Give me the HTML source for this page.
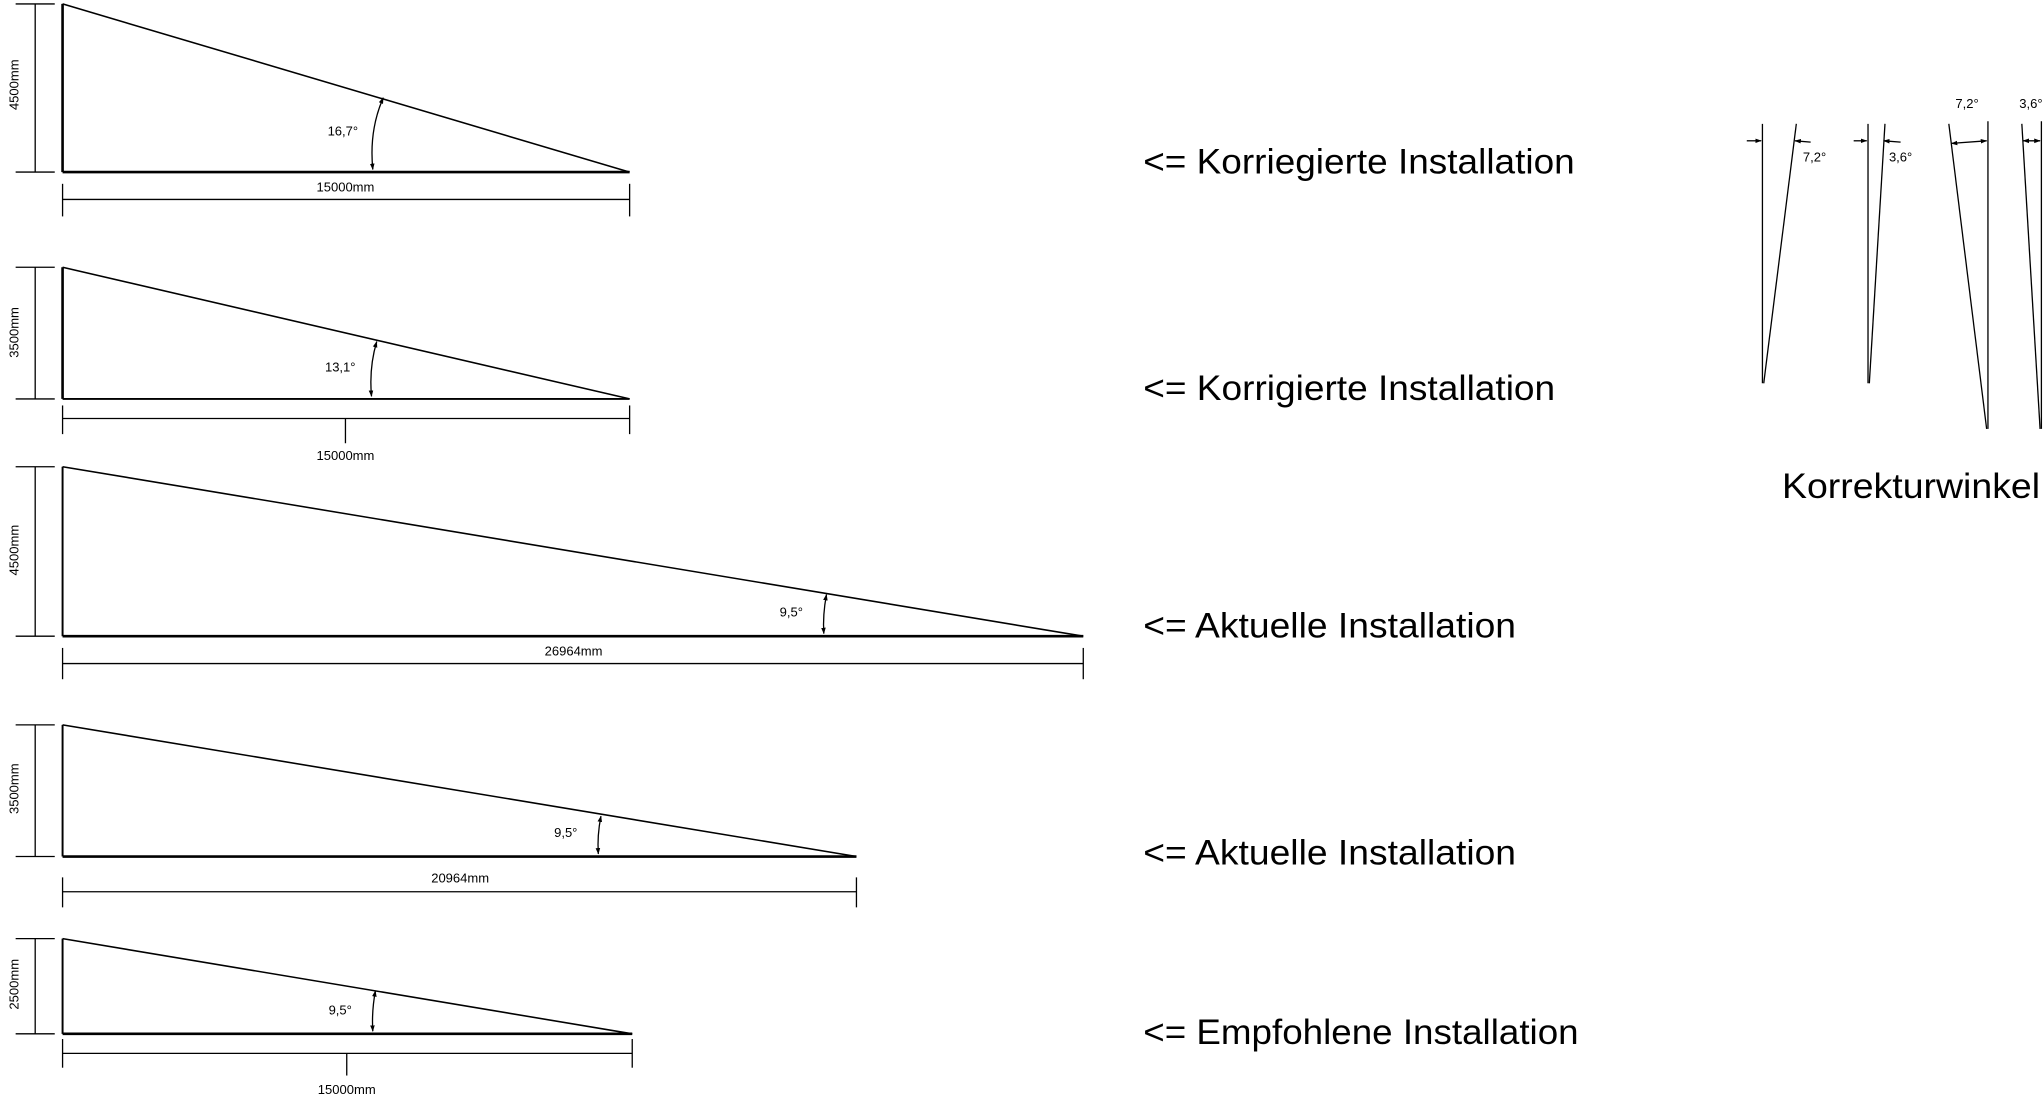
<!DOCTYPE html>
<html><head><meta charset="utf-8"><style>html,body{margin:0;padding:0;background:#fff;}svg{display:block;}</style></head>
<body>
<svg width="2044" height="1099" viewBox="0 0 1568 843" preserveAspectRatio="none" xmlns="http://www.w3.org/2000/svg" font-family="Liberation Sans, sans-serif">
<defs>
<marker id="a" viewBox="0 0 10 10" refX="9" refY="5" markerWidth="5" markerHeight="5" orient="auto-start-reverse"><path d="M0,1.5 L10,5 L0,8.5z" fill="#000"/></marker>
</defs>
<g stroke="#000" fill="none" stroke-width="1">
<line x1="48" y1="3" x2="48" y2="132" stroke-width="2"/>
<line x1="48" y1="132" x2="483" y2="132" stroke-width="2"/>
<line x1="48" y1="3" x2="483" y2="132" stroke-width="1.2"/>
<line x1="27" y1="3" x2="27" y2="132"/><line x1="12" y1="3" x2="42" y2="3"/><line x1="12" y1="132" x2="42" y2="132"/>
<line x1="48" y1="153" x2="483" y2="153"/><line x1="48" y1="141" x2="48" y2="166"/><line x1="483" y1="141" x2="483" y2="166"/>
<path d="M286,130 Q283,100 294,75" marker-start="url(#a)" marker-end="url(#a)"/>
<line x1="48" y1="205" x2="48" y2="306" stroke-width="2"/>
<line x1="48" y1="306" x2="483" y2="306" stroke-width="1.5"/>
<line x1="48" y1="205" x2="483" y2="306" stroke-width="1.2"/>
<line x1="27" y1="205" x2="27" y2="306"/><line x1="12" y1="205" x2="42" y2="205"/><line x1="12" y1="306" x2="42" y2="306"/>
<line x1="48" y1="321" x2="483" y2="321"/><line x1="48" y1="311" x2="48" y2="333"/><line x1="483" y1="311" x2="483" y2="333"/><line x1="265" y1="321" x2="265" y2="340"/>
<path d="M285,304 Q283,282 289,262" marker-start="url(#a)" marker-end="url(#a)"/>
<line x1="48" y1="358" x2="48" y2="488" stroke-width="1.5"/>
<line x1="48" y1="488" x2="831" y2="488" stroke-width="2"/>
<line x1="48" y1="358" x2="831" y2="488" stroke-width="1.2"/>
<line x1="27" y1="358" x2="27" y2="488"/><line x1="12" y1="358" x2="42" y2="358"/><line x1="12" y1="488" x2="42" y2="488"/>
<line x1="48" y1="509" x2="831" y2="509"/><line x1="48" y1="497" x2="48" y2="521"/><line x1="831" y1="497" x2="831" y2="521"/>
<path d="M632,486 Q631,472 634,456" marker-start="url(#a)" marker-end="url(#a)"/>
<line x1="48" y1="556" x2="48" y2="657" stroke-width="1.5"/>
<line x1="48" y1="657" x2="657" y2="657" stroke-width="2"/>
<line x1="48" y1="556" x2="657" y2="657" stroke-width="1.2"/>
<line x1="27" y1="556" x2="27" y2="657"/><line x1="12" y1="556" x2="42" y2="556"/><line x1="12" y1="657" x2="42" y2="657"/>
<line x1="48" y1="684" x2="657" y2="684"/><line x1="48" y1="673" x2="48" y2="696"/><line x1="657" y1="673" x2="657" y2="696"/>
<path d="M459,655 Q458,641 461,626" marker-start="url(#a)" marker-end="url(#a)"/>
<line x1="48" y1="720" x2="48" y2="793" stroke-width="1.5"/>
<line x1="48" y1="793" x2="485" y2="793" stroke-width="2"/>
<line x1="48" y1="720" x2="485" y2="793" stroke-width="1.2"/>
<line x1="27" y1="720" x2="27" y2="793"/><line x1="12" y1="720" x2="42" y2="720"/><line x1="12" y1="793" x2="42" y2="793"/>
<line x1="48" y1="808" x2="485" y2="808"/><line x1="48" y1="797" x2="48" y2="819"/><line x1="485" y1="797" x2="485" y2="819"/><line x1="266" y1="808" x2="266" y2="825"/>
<path d="M286,791 Q285,776 288,760" marker-start="url(#a)" marker-end="url(#a)"/>
<line x1="1352" y1="95" x2="1352" y2="294"/><line x1="1378" y1="95" x2="1353" y2="294"/>
<line x1="1340" y1="108" x2="1351" y2="108" marker-end="url(#a)"/><line x1="1389" y1="109" x2="1377" y2="108" marker-end="url(#a)"/>
<line x1="1433" y1="95" x2="1433" y2="294"/><line x1="1446" y1="95" x2="1434" y2="294"/>
<line x1="1422" y1="108" x2="1432" y2="108" marker-end="url(#a)"/><line x1="1458" y1="109" x2="1445" y2="108" marker-end="url(#a)"/>
<line x1="1495" y1="95" x2="1524" y2="329"/><line x1="1525" y1="93" x2="1525" y2="329"/>
<line x1="1497" y1="110" x2="1524" y2="108" marker-start="url(#a)" marker-end="url(#a)"/>
<line x1="1551" y1="95" x2="1565" y2="329"/><line x1="1566" y1="93" x2="1566" y2="329"/>
<line x1="1552" y1="108" x2="1565" y2="108" marker-start="url(#a)" marker-end="url(#a)"/>
</g>
<g fill="#000" font-size="10">
<text x="263" y="104" text-anchor="middle">16,7°</text>
<text x="261" y="285" text-anchor="middle">13,1°</text>
<text x="607" y="473" text-anchor="middle">9,5°</text>
<text x="434" y="642" text-anchor="middle">9,5°</text>
<text x="261" y="778" text-anchor="middle">9,5°</text>
<text x="265" y="147" text-anchor="middle">15000mm</text>
<text x="265" y="353" text-anchor="middle">15000mm</text>
<text x="440" y="503" text-anchor="middle">26964mm</text>
<text x="353" y="677" text-anchor="middle">20964mm</text>
<text x="266" y="839" text-anchor="middle">15000mm</text>
<text transform="translate(14,65) rotate(-90)" text-anchor="middle">4500mm</text>
<text transform="translate(14,255) rotate(-90)" text-anchor="middle">3500mm</text>
<text transform="translate(14,422) rotate(-90)" text-anchor="middle">4500mm</text>
<text transform="translate(14,605) rotate(-90)" text-anchor="middle">3500mm</text>
<text transform="translate(14,755) rotate(-90)" text-anchor="middle">2500mm</text>
<text x="1392" y="124" text-anchor="middle">7,2°</text>
<text x="1458" y="124" text-anchor="middle">3,6°</text>
<text x="1509" y="83" text-anchor="middle">7,2°</text>
<text x="1558" y="83" text-anchor="middle">3,6°</text>
</g>
<g fill="#000" font-size="27">
<text x="877" y="133" textLength="331" lengthAdjust="spacingAndGlyphs">&lt;= Korriegierte Installation</text>
<text x="877" y="307" textLength="316" lengthAdjust="spacingAndGlyphs">&lt;= Korrigierte Installation</text>
<text x="877" y="489" textLength="286" lengthAdjust="spacingAndGlyphs">&lt;= Aktuelle Installation</text>
<text x="877" y="663" textLength="286" lengthAdjust="spacingAndGlyphs">&lt;= Aktuelle Installation</text>
<text x="877" y="801" textLength="334" lengthAdjust="spacingAndGlyphs">&lt;= Empfohlene Installation</text>
<text x="1367" y="382" textLength="198" lengthAdjust="spacingAndGlyphs">Korrekturwinkel</text>
</g>
</svg>
</body></html>
